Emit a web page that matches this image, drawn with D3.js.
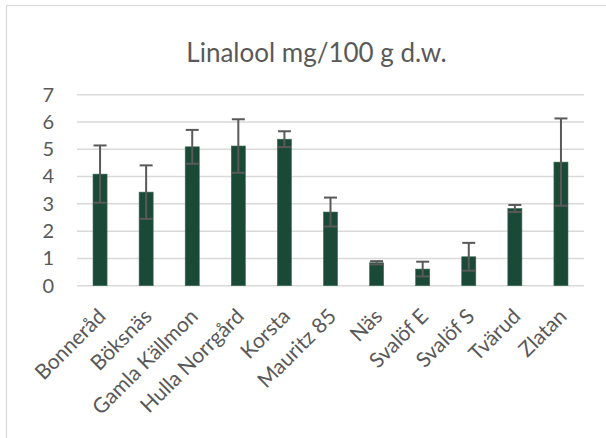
<!DOCTYPE html>
<html>
<head>
<meta charset="utf-8">
<script src="https://cdn.jsdelivr.net/npm/d3@7"></script>
<style>
  html, body { margin: 0; padding: 0; background: #fff; }
  svg { display: block; }
  text { font-family: Lato, "Open Sans", sans-serif; fill: #595959; }
</style>
</head>
<body>
<svg id="chart" width="606" height="438"></svg>
<script>
// Linalool content per cultivar (mg/100 g dry weight), mean and standard deviation
const cultivars = ["Bonneråd", "Böksnäs", "Gamla Källmon", "Hulla Norrgård", "Korsta",
  "Mauritz 85", "Näs", "Svalöf E", "Svalöf S", "Tvärud", "Zlatan"];
const linalool = [4.09, 3.43, 5.09, 5.12, 5.37, 2.70, 0.84, 0.61, 1.06, 2.83, 4.53];
const linaloolSd = [1.05, 0.98, 0.62, 0.98, 0.29, 0.53, 0.06, 0.27, 0.51, 0.13, 1.60];
const yTicks = [0, 1, 2, 3, 4, 5, 6, 7];
const chartTitle = "Linalool mg/100 g d.w.";

const svg = d3.select("#chart");
const W = 606, H = 438;
const plot = { left: 77, right: 584, top: 94.7, bottom: 285.7 };

// Chart area frame
svg.append("rect")
  .attr("x", 6.5).attr("y", 5.5)
  .attr("width", W + 10).attr("height", H + 10)
  .attr("fill", "none").attr("stroke", "#d9d9d9").attr("stroke-width", 1.2);

const x = d3.scaleBand().domain(cultivars).range([plot.left, plot.right]).paddingInner(0.695).paddingOuter(0.3475);
const y = d3.scaleLinear().domain([0, 7]).range([plot.bottom, plot.top]);

// Horizontal gridlines
svg.append("g")
  .selectAll("line")
  .data(yTicks)
  .join("line")
  .attr("x1", plot.left).attr("x2", plot.right)
  .attr("y1", d => y(d)).attr("y2", d => y(d))
  .attr("stroke", "#d9d9d9").attr("stroke-width", 1.5);

// Y axis labels
const yAxis = d3.axisLeft(y).tickValues(yTicks).tickSize(0).tickPadding(0).tickFormat(d3.format("d"));
const yg = svg.append("g").attr("transform", "translate(54,0)").call(yAxis);
yg.select(".domain").remove();
yg.selectAll("text").attr("font-size", 20).attr("font-family", "Lato, sans-serif").attr("fill", "#595959");

// Bars
svg.append("g")
  .selectAll("rect")
  .data(cultivars)
  .join("rect")
  .attr("x", d => x(d))
  .attr("width", x.bandwidth())
  .attr("y", (d, i) => y(linalool[i]))
  .attr("height", (d, i) => y(0) - y(linalool[i]))
  .attr("fill", "#1a4a37")
  .attr("stroke", "#3f6b58").attr("stroke-width", 0.6);

// Error bars (± SD)
const eg = svg.append("g").attr("stroke", "#595959").attr("stroke-width", 2).attr("fill", "none");
cultivars.forEach((c, i) => {
  const cx = x(c) + x.bandwidth() / 2;
  const hi = y(linalool[i] + linaloolSd[i]);
  const lo = y(linalool[i] - linaloolSd[i]);
  const cap = 6.5;
  eg.append("line").attr("x1", cx).attr("x2", cx).attr("y1", hi).attr("y2", lo);
  eg.append("line").attr("x1", cx - cap).attr("x2", cx + cap).attr("y1", hi).attr("y2", hi);
  eg.append("line").attr("x1", cx - cap).attr("x2", cx + cap).attr("y1", lo).attr("y2", lo);
});

// Category axis labels, rotated 45°
const xAxis = d3.axisBottom(x).tickSize(0).tickPadding(0);
const xg = svg.append("g").attr("transform", `translate(0,${plot.bottom})`).call(xAxis);
xg.select(".domain").remove();
xg.selectAll("text")
  .attr("font-size", 21).attr("font-family", "Lato, sans-serif").attr("fill", "#595959")
  .attr("text-anchor", "end")
  .attr("x", 0).attr("y", 0).attr("dy", 0)
  .attr("transform", "translate(7,32) rotate(-45)");

// Title
svg.append("text")
  .attr("x", 316.5).attr("y", 62)
  .attr("text-anchor", "middle")
  .attr("font-size", 26)
  .text(chartTitle);
</script>
</body>
</html>
